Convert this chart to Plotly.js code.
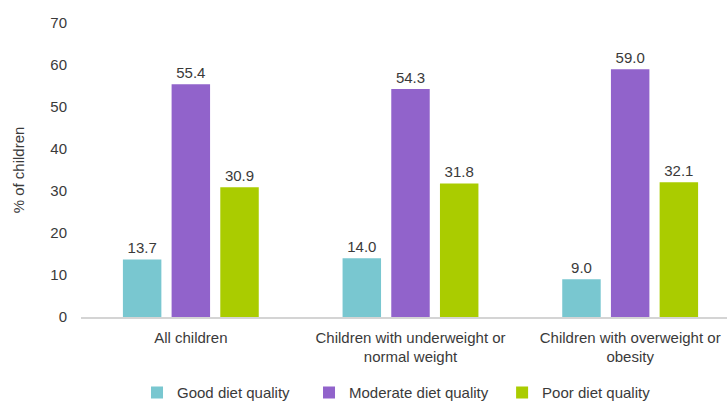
<!DOCTYPE html>
<html>
<head>
<meta charset="utf-8">
<script src="https://cdn.plot.ly/plotly-3.0.1.min.js"></script>
<style>
  html, body { margin: 0; padding: 0; overflow: hidden; background: #fff; }
  #chart { width: 740px; height: 402px; }
</style>
</head>
<body>
<div id="chart"></div>
<script>
// Share of children by diet quality, per weight group
const groups = [
  'All children',
  'Children with underweight or<br>normal weight',
  'Children with overweight or<br>obesity'
];
const seriesNames = ['Good diet quality', 'Moderate diet quality', 'Poor diet quality'];
const goodDiet = [13.7, 14.0, 9.0];
const moderateDiet = [55.4, 54.3, 59.0];
const poorDiet = [30.9, 31.8, 32.1];
const yTicks = [0, 10, 20, 30, 40, 50, 60, 70];

const colors = ['#79C7D0', '#9163CB', '#AACC00'];
const values = [goodDiet, moderateDiet, poorDiet];
const legendIds = ['legend', 'legend2', 'legend3'];
const font = { family: '"Liberation Sans", Arial, sans-serif', size: 15, color: '#3a3a3a' };

const traces = values.map((vals, i) => ({
  type: 'bar',
  name: seriesNames[i],
  x: groups,
  y: vals,
  marker: { color: colors[i] },
  text: vals.map(v => v.toFixed(1)),
  textposition: 'outside',
  textfont: font,
  cliponaxis: false,
  legend: legendIds[i],
  hoverinfo: 'skip'
}));

const legendBase = {
  orientation: 'h',
  yanchor: 'middle',
  y: -0.258,
  xanchor: 'left',
  font: font,
  bgcolor: 'rgba(0,0,0,0)'
};

const layout = {
  width: 740,
  height: 402,
  margin: { l: 81, r: 0, t: 23, b: 85, autoexpand: false },
  paper_bgcolor: '#fff',
  plot_bgcolor: '#fff',
  font: font,
  barmode: 'group',
  bargap: 0.335,
  bargroupgap: 0.21,
  showlegend: true,
  legend: Object.assign({}, legendBase, { x: 0.085 }),
  legend2: Object.assign({}, legendBase, { x: 0.346 }),
  legend3: Object.assign({}, legendBase, { x: 0.639 }),
  xaxis: {
    showgrid: false,
    zeroline: false,
    showline: true,
    linecolor: '#d4d4d4',
    linewidth: 1.5,
    ticks: '',
    ticklabelstandoff: 6,
    tickfont: font
  },
  yaxis: {
    range: [0, 70],
    tickvals: yTicks,
    showgrid: false,
    zeroline: false,
    showline: false,
    ticks: '',
    ticklabelstandoff: 13,
    tickfont: font,
    title: { text: '% of children', font: font, standoff: 22 }
  }
};

Plotly.newPlot('chart', traces, layout, { displayModeBar: false, staticPlot: true });
</script>
</body>
</html>
